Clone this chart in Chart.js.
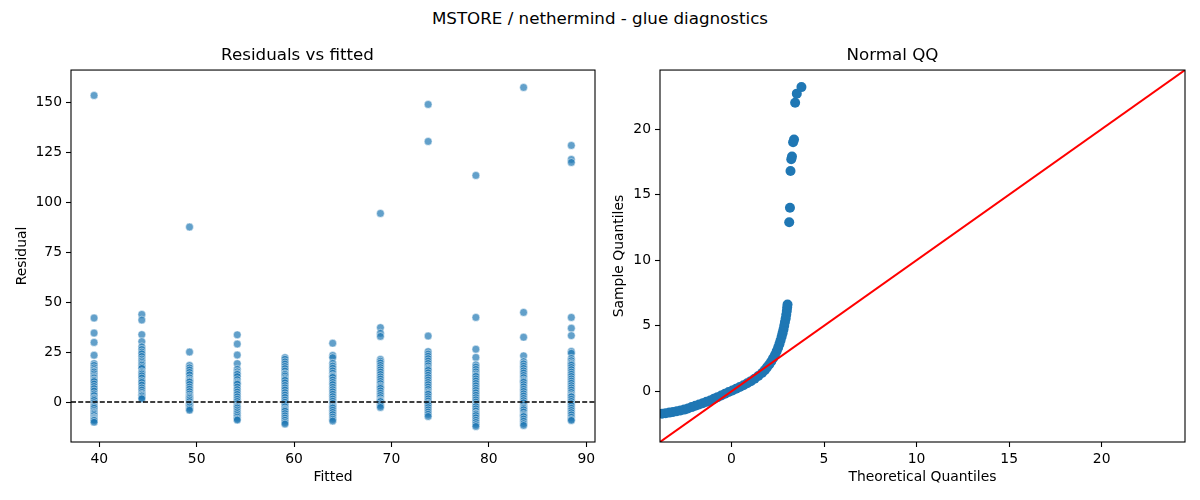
<!DOCTYPE html>
<html>
<head>
<meta charset="utf-8">
<title>MSTORE / nethermind - glue diagnostics</title>
<script src="https://cdn.jsdelivr.net/npm/chart.js@4.4.1/dist/chart.umd.min.js"></script>
<style>
  body { margin: 0; background: #fff; }
  #fig { position: relative; width: 1200px; height: 500px; font-family: "DejaVu Sans", sans-serif; }
  #suptitle { position: absolute; left: 0; top: 8px; width: 1200px; text-align: center; font-size: 16.7px; line-height: 20px; color: #000; }
  .panel { position: absolute; top: 0; width: 600px; height: 500px; }
</style>
</head>
<body>
<div id="fig">
  <div id="suptitle">MSTORE / nethermind - glue diagnostics</div>
  <div class="panel" style="left:0"><canvas id="residChart"></canvas></div>
  <div class="panel" style="left:600px"><canvas id="qqChart"></canvas></div>
</div>
<script>
// fitted value of each vertical stripe in the left panel
const fittedLevels = [39.47, 44.37, 49.27, 54.17, 59.07, 63.97, 68.87, 73.77, 78.67, 83.57, 88.47];

// residuals
const res39 = [153.3, 42.0, 34.5, 29.8, 23.4, 19.2, 18.3, 17.1, 16.2, 15.4, 15.0, 14.1, 13.2, 12.5, 12.0, 11.1, 10.8, 10.2, 9.0, 7.8, 6.7, 5.5, 4.1, 3.2, 2.0, 1.5, 0.8, -0.3, -1.2, -2.0, -2.4, -3.1, -4.2, -5.0, -5.5, -6.1, -6.8, -7.7, -8.0, -8.5, -9.0, -9.2, -10.1];
const res44 = [43.8, 41.0, 33.7, 30.2, 27.6, 26.3, 25.0, 24.1, 22.8, 21.5, 20.6, 19.8, 19.0, 18.4, 17.5, 16.8, 15.2, 14.6, 14.0, 13.1, 12.0, 10.6, 9.8, 8.5, 7.1, 6.0, 4.8, 3.9, 3.4, 3.0, 2.2, 1.6];
const res49 = [87.5, 25.0, 18.3, 17.1, 16.0, 14.8, 13.6, 12.1, 11.0, 10.4, 10.0, 8.8, 7.5, 6.4, 5.2, 4.0, 3.0, 2.4, 1.8, 1.0, 0.2, -0.8, -1.2, -1.7, -2.5, -3.4, -4.1];
const res54 = [33.6, 29.0, 23.5, 19.2, 16.4, 15.1, 14.2, 13.8, 12.7, 11.2, 10.0, 9.4, 8.9, 7.5, 6.2, 5.0, 3.8, 2.6, 1.4, 0.3, -0.8, -1.9, -2.4, -3.0, -4.0, -4.9, -5.8, -6.7, -7.6, -8.5, -9.0];
const res59 = [22.2, 21.4, 20.1, 19.0, 17.8, 16.7, 15.5, 14.2, 13.8, 13.0, 12.0, 11.3, 10.8, 9.6, 8.3, 7.1, 6.0, 4.7, 3.5, 2.3, 1.0, -0.1, -1.2, -2.4, -3.5, -4.0, -4.6, -5.8, -6.9, -8.0, -9.1, -10.2, -11.0];
const res64 = [29.4, 23.3, 22.2, 19.4, 18.0, 16.9, 15.6, 14.4, 13.2, 12.8, 12.3, 11.0, 9.8, 8.7, 7.4, 6.2, 5.1, 3.9, 2.7, 1.5, 0.4, -0.7, -1.9, -2.5, -3.0, -4.1, -5.2, -6.3, -7.5, -8.6, -9.5];
const res69 = [94.3, 37.2, 34.4, 32.8, 21.3, 20.4, 19.5, 18.3, 17.2, 16.1, 15.0, 13.8, 12.6, 11.5, 10.3, 9.2, 8.0, 7.4, 6.8, 5.6, 4.4, 3.3, 2.2, 1.1, 0.6, 0.2, -0.9, -1.8, -2.7];
const res74 = [148.8, 130.3, 33.0, 25.2, 24.0, 22.9, 21.7, 20.5, 19.3, 18.1, 17.0, 16.4, 15.8, 14.6, 13.4, 12.2, 11.0, 9.8, 8.7, 7.5, 6.3, 5.1, 4.4, 3.9, 2.7, 1.6, 0.5, -0.6, -1.1, -1.7, -2.8, -3.9, -5.0, -6.1, -7.2];
const res79 = [113.3, 42.3, 26.4, 22.3, 18.6, 17.5, 16.3, 15.1, 14.0, 13.2, 12.8, 11.6, 10.5, 9.3, 8.1, 6.9, 5.8, 4.6, 3.4, 2.2, 1.1, 0.0, -1.1, -2.0, -2.3, -3.4, -4.5, -5.7, -6.0, -6.8, -7.9, -9.1, -10.2, -11.3, -12.2];
const res84 = [157.3, 44.8, 32.4, 23.1, 20.2, 19.1, 17.9, 16.8, 15.6, 14.5, 13.3, 12.2, 11.0, 10.4, 9.9, 8.7, 7.6, 6.4, 5.3, 4.1, 3.0, 1.8, 0.7, -0.4, -1.6, -2.7, -3.2, -3.9, -5.0, -6.2, -6.8, -7.3, -8.5, -9.6, -10.8, -11.7];
const res88 = [128.3, 121.3, 119.8, 42.3, 36.9, 33.2, 25.3, 24.4, 21.8, 20.7, 19.6, 18.9, 18.4, 17.3, 16.2, 15.0, 13.9, 12.8, 11.6, 10.5, 9.4, 8.2, 7.1, 6.0, 4.8, 3.7, 3.0, 2.6, 1.4, 0.3, -0.8, -1.9, -3.1, -4.2, -5.3, -6.4, -7.6, -8.7, -9.2];
const residualGroups = [res39, res44, res49, res54, res59, res64, res69, res74, res79, res84, res88];

// normal QQ: theoretical vs sample quantiles
const qqTheoretical = [-3.75, -3.55, -3.35, -3.15, -2.95, -2.75, -2.55, -2.35, -2.15, -1.95, -1.75, -1.55, -1.35, -1.15, -0.95,
  -0.75, -0.55, -0.35, -0.15, 0.05, 0.25, 0.45, 0.65, 0.85, 1.05, 1.25, 1.45, 1.65, 1.8, 1.92, 2.04, 2.15, 2.25, 2.35,
  2.44, 2.52, 2.59, 2.65, 2.71, 2.76, 2.81, 2.85, 2.89, 2.93, 2.96, 2.99, 3.01, 3.03,
  3.12, 3.16, 3.19, 3.23, 3.27, 3.33, 3.38, 3.44, 3.53, 3.78];
const qqSample = [-1.70, -1.66, -1.62, -1.57, -1.52, -1.46, -1.39, -1.30, -1.20, -1.10, -1.00, -0.90, -0.80, -0.69, -0.57,
  -0.44, -0.31, -0.18, -0.05, 0.07, 0.20, 0.33, 0.47, 0.62, 0.78, 0.96, 1.17, 1.40, 1.62, 1.83, 2.05, 2.28, 2.52, 2.78,
  3.05, 3.32, 3.60, 3.88, 4.16, 4.44, 4.72, 5.00, 5.28, 5.56, 5.84, 6.12, 6.40, 6.62,
  12.9, 14.0, 16.8, 17.7, 17.9, 19.0, 19.2, 22.0, 22.7, 23.2];

const residXTicks = [40, 50, 60, 70, 80, 90];
const residYTicks = [0, 25, 50, 75, 100, 125, 150];
const qqTicks = [0, 5, 10, 15, 20];

const tickFont = { family: "DejaVu Sans", size: 13.9 };
const labelFont = { family: "DejaVu Sans", size: 13.9 };
const titleFont = { family: "DejaVu Sans", size: 16.7, weight: "normal" };

// matplotlib-like box round the plot area
const framePlugin = {
  id: "frame",
  afterDatasetsDraw(chart) {
    const { ctx, chartArea: a } = chart;
    ctx.save();
    ctx.strokeStyle = "#000";
    ctx.lineWidth = 1.1;
    ctx.strokeRect(a.left, a.top, a.right - a.left, a.bottom - a.top);
    ctx.restore();
  }
};

function axis(min, max, ticks, title, size, titlePad) {
  return {
    type: "linear",
    min,
    max,
    afterBuildTicks: s => { s.ticks = ticks.map(v => ({ value: v })); },
    afterFit: s => {
      if (s.isHorizontal()) s.height = size;
      else s.width = size;
    },
    grid: { drawOnChartArea: false, drawTicks: true, tickLength: 5, tickWidth: 1.1, tickColor: "#000" },
    border: { display: false },
    ticks: { color: "#000", padding: 4, font: tickFont, maxRotation: 0, autoSkip: false },
    title: { display: true, text: title, color: "#000", font: labelFont, padding: { top: titlePad, bottom: titlePad } }
  };
}

function baseOptions(title, padRight, scales) {
  return {
    responsive: true,
    maintainAspectRatio: false,
    animation: false,
    layout: { padding: { left: 0, right: padRight, top: 0, bottom: 0 } },
    plugins: {
      legend: { display: false },
      tooltip: { enabled: false },
      title: { display: true, text: title, color: "#000", font: titleFont, padding: { top: 46, bottom: 4 } }
    },
    scales
  };
}

function drawResiduals() {
  const xMin = 37.1, xMax = 90.9;
  const points = [];
  fittedLevels.forEach((f, i) => {
    residualGroups[i].forEach(r => points.push({ x: f, y: r }));
  });

  new Chart(document.getElementById("residChart"), {
    type: "scatter",
    data: {
      datasets: [
        {
          data: [{ x: xMin, y: 0 }, { x: xMax, y: 0 }],
          showLine: true,
          borderColor: "#000",
          borderWidth: 1.4,
          borderDash: [5, 2.2],
          pointRadius: 0,
          clip: 0
        },
        {
          data: points,
          backgroundColor: "rgba(31,119,180,0.7)",
          borderColor: "rgba(255,255,255,0.7)",
          borderWidth: 0.7,
          pointRadius: 3.9,
          clip: 0
        }
      ]
    },
    options: baseOptions("Residuals vs fitted", 5, {
      x: axis(xMin, xMax, residXTicks, "Fitted", 58, 14.7),
      y: axis(-20, 166, residYTicks, "Residual", 71, 13.7)
    }),
    plugins: [framePlugin]
  });
}

function drawQQ() {
  const lo = -3.86, hi = 24.5;
  const points = qqTheoretical.map((t, i) => ({ x: t, y: qqSample[i] }));

  new Chart(document.getElementById("qqChart"), {
    type: "scatter",
    data: {
      datasets: [
        {
          data: [{ x: lo, y: lo }, { x: hi, y: hi }],
          showLine: true,
          borderColor: "#ff0000",
          borderWidth: 2,
          pointRadius: 0,
          clip: 0
        },
        {
          data: points,
          backgroundColor: "#1f77b4",
          borderColor: "#1f77b4",
          borderWidth: 0,
          pointRadius: 5,
          clip: 0
        }
      ]
    },
    options: baseOptions("Normal QQ", 15, {
      x: axis(lo, hi, qqTicks, "Theoretical Quantiles", 58, 14.7),
      y: axis(lo, hi, qqTicks, "Sample Quantiles", 60, 10.7)
    }),
    plugins: [framePlugin]
  });
}

document.addEventListener("DOMContentLoaded", () => {
  drawResiduals();
  drawQQ();
});
</script>
</body>
</html>
